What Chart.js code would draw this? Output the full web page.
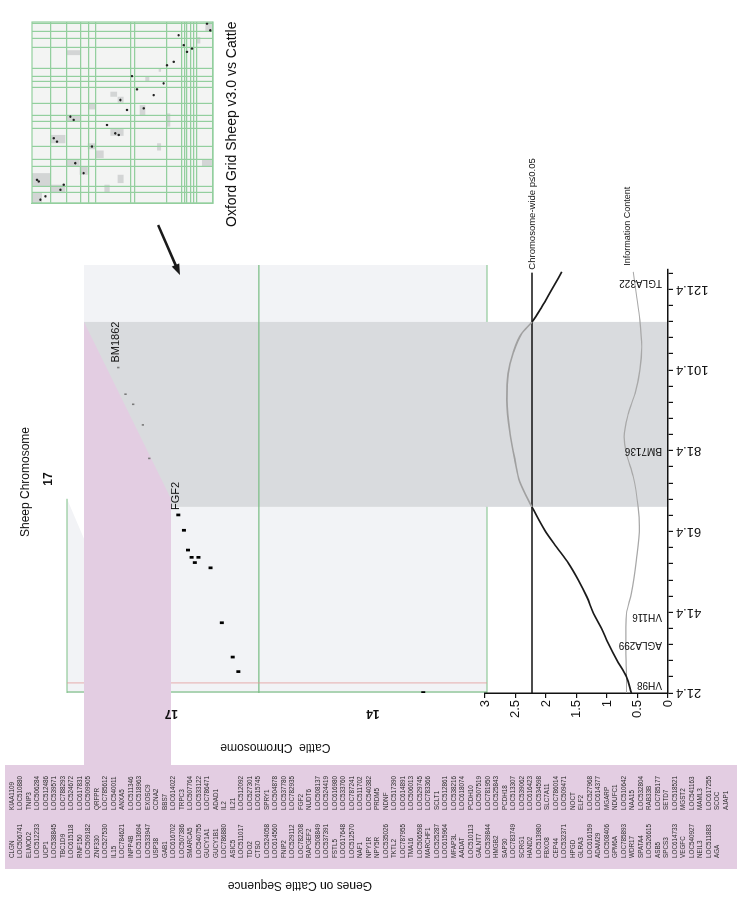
<!DOCTYPE html>
<html>
<head>
<meta charset="utf-8">
<title>Sheep chromosome 17 vs cattle sequence</title>
<script src="https://cdn.jsdelivr.net/npm/chart.js@4.4.1/dist/chart.umd.min.js"></script>
<style>
  html, body { margin: 0; padding: 0; background: #fff; overflow: hidden; }
  /* the figure is laid out landscape and turned a quarter turn */
  #page { position: absolute; left: 0; top: 0; width: 907px; height: 737px;
          transform-origin: 0 0; transform: translateY(907px) rotate(-90deg); }
  #page canvas { position: absolute; left: 0; top: 0; }
</style>
</head>
<body>
<div id="page">
  <canvas id="grid" width="907" height="737"></canvas>
  <canvas id="dots" width="907" height="737"></canvas>
  <canvas id="lod" width="907" height="737"></canvas>
</div>
<script>
// ---- QTL profile on sheep chromosome 17 (cM) ----
const lodPos = [21.4, 25.4, 29.6, 33.7, 37.4, 41.1, 45.2, 49.4, 53.5, 57.6, 61.7, 67.5, 73.7, 79.1, 85.7, 93.9, 100.5, 105.5, 110.4, 113.3, 117.0, 121.2, 125.7];
const lodVal = [0.60, 0.68, 0.84, 0.98, 1.09, 1.22, 1.33, 1.47, 1.63, 1.83, 2.02, 2.23, 2.43, 2.51, 2.59, 2.64, 2.62, 2.54, 2.40, 2.23, 2.07, 1.91, 1.74];
const infoPos = [21.4, 25.4, 31.0, 37.8, 41.1, 46.1, 54.3, 62.6, 67.5, 75.0, 80.7, 84.8, 90.6, 95.6, 101.4, 107.1, 113.7, 120.3, 125.7];
const infoVal = [0.68, 0.68, 0.69, 0.69, 0.68, 0.60, 0.52, 0.47, 0.49, 0.57, 0.68, 0.72, 0.65, 0.54, 0.46, 0.43, 0.46, 0.52, 0.57];
const threshold = 2.23;
const qtlRange = [67.5, 113.3];
const markerNames = ['VH98', 'AGLA299', 'VH116', 'BM7136', 'TGLA322'];
const markerPos = [23.4, 33.3, 40.2, 81.5, 123.1];
const sheepTickLabels = ['21.4', '41.4', '61.4', '81.4', '101.4', '121.4'];
const lodTickLabels = ['0', '0.5', '1', '1.5', '2', '2.5', '3'];

// ---- comparative dot plot: sheep cM vs position on cattle chromosomes ----
const cattleChroms = ['17', '14'];
const cattleFrom = [56.6, 0];
const cattleTo = [100, 56.6];
const dotSheep = [102.0, 95.4, 92.9, 87.8, 79.5, 65.5, 61.7, 56.8, 55.0, 55.0, 53.7, 52.4, 38.8, 30.3, 26.7, 21.5];
const dotCattle = [91.5, 89.7, 87.8, 85.4, 83.8, 76.6, 75.2, 74.2, 73.3, 71.6, 72.5, 68.6, 65.8, 63.1, 61.7, 15.8];
const dotLabel = ['BM1862', '', '', '', '', 'FGF2', '', '', '', '', '', '', '', '', '', ''];
const geneSheep = [69.5, 113.3];
const geneCattle = [78.4, 100];
const redLineAt = 23.9;

const genesA = ('KIAA1109 LOC510880 TNIP3 LOC506284 LOC512486 LOC539571 LOC788293 LOC524672 LOC617831 LOC509905 QRFPR LOC785612 ' +
  'LOC540011 ANXA5 LOC511346 LOC518963 EXOSC9 CCNA2 BBS7 LOC614022 TRPC3 LOC507764 LOC533122 LOC786471 ADAD1 IL2 IL21 ' +
  'LOC512092 LOC527301 LOC615745 SPRY1 LOC504878 LOC537780 LOC782935 FGF2 NUDT6 LOC508137 LOC524419 LOC616980 LOC533760 ' +
  'LOC787241 LOC511702 LOC540382 PRDM5 NDNF LOC517390 LOC614891 LOC506013 LOC529745 LOC783366 SCLT1 LOC512861 LOC538216 ' +
  'LOC618074 PCDH10 LOC507519 LOC781950 LOC525843 PCDH18 LOC513307 LOC539062 LOC616423 LOC534598 SLC7A11 LOC786014 ' +
  'LOC509471 NOCT ELF2 LOC527968 LOC614377 MGARP NDUFC1 LOC510642 NAA15 LOC532804 RAB33B LOC785177 SETD7 LOC518521 MGST2 ' +
  'LOC541163 MAML3 LOC617255 SCOC AJAP1').split(' ');
const genesB = ('CLGN LOC506741 ELMOD2 LOC512233 UCP1 LOC538845 TBC1D9 LOC615118 RNF150 LOC509182 ZNF330 LOC527530 IL15 ' +
  'LOC784621 INPP4B LOC513694 LOC533947 USP38 GAB1 LOC616702 LOC507386 SMARCA5 LOC540755 GUCY1A1 GUCY1B1 LOC786880 ASIC5 ' +
  'LOC511017 TDO2 CTSO LOC524058 LOC614560 FNIP2 LOC529112 LOC782208 RAPGEF2 LOC508849 LOC537391 FSTL5 LOC617648 LOC512570 ' +
  'NAF1 NPY1R NPY5R LOC535026 TKTL2 LOC787955 TMA16 LOC506598 MARCHF1 LOC525287 LOC615964 MFAP3L AADAT LOC510113 GALNT7 ' +
  'LOC539844 HMGB2 SAP30 LOC783749 SCRG1 HAND2 LOC513980 FBXO8 CEP44 LOC532371 HPGD GLRA3 LOC616159 ADAM29 LOC508406 GPM6A ' +
  'LOC785893 WDR17 SPATA4 LOC526615 ASB5 SPCS3 LOC614733 VEGFC LOC540927 NEIL3 LOC511883 AGA').split(' ');

// ---- Oxford grid thumbnail (0-100 both ways) ----
const gridSheepBreaks = [5.9, 9.2, 20.2, 23.9, 31.2, 41.3, 45.0, 48.6, 55.0, 63.9, 67.0, 69.7, 74.3, 86.2, 90.8, 95.0, 99.4];
const gridCattleBreaks = [10.5, 19.0, 27.1, 31.3, 35.4, 54.3, 56.5, 74.2, 82.9, 84.2, 85.6, 87.5, 89.3, 91.2];
const thumbBlocks = [
  [81.7, 84.4, 19.0, 26.7], [58.7, 61.5, 43.3, 47.0], [55.4, 58.7, 47.3, 50.6], [51.7, 54.7, 31.3, 35.0],
  [45.0, 48.6, 19.0, 26.7], [48.6, 54.1, 59.5, 62.6], [37.1, 41.3, 43.3, 50.6], [33.0, 37.6, 10.1, 18.4],
  [29.0, 33.0, 69.1, 71.3], [29.7, 33.0, 30.8, 35.0], [24.8, 29.0, 35.0, 39.6], [20.2, 23.9, 19.0, 26.3],
  [15.6, 20.2, 26.3, 30.8], [9.2, 16.5, 0, 10.1], [5.5, 10.1, 10.1, 18.4], [0, 5.9, 0, 5.5],
  [5.9, 10.1, 40.0, 42.9], [11.0, 15.6, 47.3, 50.6], [20.2, 23.9, 93.9, 99.4], [94.5, 100, 95.8, 99.4],
  [72.5, 74.3, 70.0, 71.3], [67.0, 69.7, 62.6, 64.8], [42.2, 49.5, 74.2, 76.4], [88.1, 91.7, 91.2, 93.0]
];
const thumbDotX = [1.8, 3.7, 12.8, 11.9, 7.3, 10.1, 35.8, 33.9, 47.7, 45.9, 22.0, 16.5, 31.2, 43.1, 38.5, 37.6, 56.9, 51.4, 62.8, 70.1, 52.3, 59.6, 66.1, 76.1, 78.0, 92.7, 87.2, 85.3, 83.5, 99.1, 95.4];
const thumbDotY = [4.6, 7.4, 2.8, 3.7, 15.7, 17.5, 12.0, 13.8, 21.2, 23.0, 23.9, 28.5, 33.1, 41.4, 46.0, 47.9, 48.8, 52.5, 58.0, 55.2, 61.7, 67.2, 72.7, 74.6, 78.3, 81.0, 83.8, 88.4, 85.6, 96.7, 98.5];

const arrowFrom = [137.3, 81.6];
const arrowTo = [124.9, 76.2];

Chart.defaults.font.family = '"Liberation Sans", Arial, sans-serif';
Chart.defaults.color = '#111';

const FONT = '"Liberation Sans", Arial, sans-serif';
const inQtl = v => v > qtlRange[0] && v < qtlRange[1];

function rotText(ctx, text, x, y, align) {
  ctx.save();
  ctx.translate(x, y);
  ctx.rotate(-Math.PI / 2);
  ctx.textAlign = align;
  ctx.textBaseline = 'middle';
  ctx.fillText(text, 0, 0);
  ctx.restore();
}

// ---------- thumbnail grid ----------
const gridDecor = {
  id: 'gridDecor',
  beforeDraw(chart) {
    const { ctx, chartArea: a, scales: { x, y } } = chart;
    ctx.save();
    ctx.fillStyle = '#f3f4f3';
    ctx.fillRect(a.left, a.top, a.right - a.left, a.bottom - a.top);
    ctx.fillStyle = '#d3d5d5';
    thumbBlocks.forEach(b => {
      const x0 = x.getPixelForValue(b[0]), x1 = x.getPixelForValue(b[1]);
      const y0 = y.getPixelForValue(b[2]), y1 = y.getPixelForValue(b[3]);
      ctx.fillRect(x0, y0, x1 - x0, y1 - y0);
    });
    ctx.restore();
  },
  afterDraw(chart) {
    const { ctx, chartArea: a } = chart;
    ctx.save();
    ctx.strokeStyle = '#93cf9e';
    ctx.lineWidth = 1.2;
    ctx.strokeRect(a.left, a.top, a.right - a.left, a.bottom - a.top);
    ctx.fillStyle = '#111';
    ctx.font = '14px ' + FONT;
    ctx.textAlign = 'left';
    ctx.textBaseline = 'middle';
    ctx.fillText('Oxford Grid Sheep v3.0 vs Cattle', 680, a.bottom + 19);
    ctx.restore();
  }
};

new Chart(document.getElementById('grid'), {
  type: 'scatter',
  data: { datasets: [{
    data: thumbDotX.map((x, i) => ({ x, y: thumbDotY[i] })),
    pointRadius: 1.2, backgroundColor: '#222', borderWidth: 0
  }] },
  options: {
    responsive: false, animation: false,
    layout: { padding: { left: 704, right: 22, top: 32, bottom: 524 } },
    plugins: { legend: { display: false }, tooltip: { enabled: false } },
    scales: {
      x: {
        type: 'linear', min: 0, max: 100,
        afterBuildTicks: s => { s.ticks = gridSheepBreaks.map(v => ({ value: v })); },
        afterFit: s => { s.height = 0; },
        ticks: { display: false },
        grid: { color: '#93cf9e', lineWidth: 1.2, drawTicks: false },
        border: { color: '#93cf9e', width: 1.2 }
      },
      y: {
        type: 'linear', min: 0, max: 100, reverse: true,
        afterBuildTicks: s => { s.ticks = gridCattleBreaks.map(v => ({ value: v })); },
        afterFit: s => { s.width = 0; },
        ticks: { display: false },
        grid: { color: '#93cf9e', lineWidth: 1.2, drawTicks: false },
        border: { color: '#93cf9e', width: 1.2 }
      }
    }
  },
  plugins: [gridDecor]
});

// ---------- dot plot panel ----------
const dotDecor = {
  id: 'dotDecor',
  beforeDraw(chart) {
    const { ctx, chartArea: a, scales: { x, y } } = chart;
    const X = v => x.getPixelForValue(v), Y = v => y.getPixelForValue(v);
    const yTop = a.top - 17;
    ctx.save();
    ctx.fillStyle = '#f2f3f6';
    ctx.fillRect(a.left, a.top, a.right - a.left, a.bottom - a.top);
    ctx.beginPath();
    ctx.moveTo(a.left, yTop); ctx.lineTo(X(geneSheep[0]), yTop);
    ctx.lineTo(X(geneSheep[0]) - 40, a.top); ctx.lineTo(a.left, a.top);
    ctx.closePath(); ctx.fill();
    ctx.fillStyle = '#d9dbde';
    ctx.fillRect(X(qtlRange[0]), a.top, X(qtlRange[1]) - X(qtlRange[0]), a.bottom - a.top);

    ctx.strokeStyle = '#7cbf86';
    ctx.lineWidth = 1.2;
    ctx.beginPath();
    ctx.moveTo(a.left, Y(cattleFrom[0])); ctx.lineTo(a.right, Y(cattleFrom[0]));
    ctx.moveTo(a.left, Y(0)); ctx.lineTo(a.right, Y(0));
    ctx.moveTo(a.left + 1, yTop); ctx.lineTo(a.left + 1, a.bottom);
    ctx.moveTo(a.left, yTop); ctx.lineTo(X(geneSheep[0]), yTop);
    ctx.stroke();
    ctx.strokeStyle = '#e59a9a';
    ctx.lineWidth = 0.8;
    ctx.beginPath();
    ctx.moveTo(X(redLineAt), yTop); ctx.lineTo(X(redLineAt), a.bottom);
    ctx.stroke();

    // genes panel and its link to cattle chromosome 17
    const gx0 = 38, gx1 = 142;
    ctx.fillStyle = '#e3cde2';
    ctx.beginPath();
    ctx.moveTo(gx0, 5); ctx.lineTo(gx1, 5); ctx.lineTo(gx1, Y(geneCattle[1]));
    ctx.lineTo(X(geneSheep[1]), Y(geneCattle[1]));
    ctx.lineTo(X(geneSheep[0]), Y(geneCattle[0]));
    ctx.lineTo(gx1, Y(geneCattle[0]));
    ctx.lineTo(gx1, 737); ctx.lineTo(gx0, 737);
    ctx.closePath(); ctx.fill();

    ctx.fillStyle = '#2a2a2a';
    ctx.font = '6.3px ' + FONT;
    ctx.textAlign = 'left';
    ctx.textBaseline = 'middle';
    genesA.forEach((g, i) => ctx.fillText(g, 97, 12 + i * 8.5));
    genesB.forEach((g, i) => ctx.fillText(g, 49, 12 + i * 8.5));
    ctx.restore();
  },
  afterDraw(chart) {
    const { ctx, scales: { x, y } } = chart;
    const X = v => x.getPixelForValue(v), Y = v => y.getPixelForValue(v);
    ctx.save();
    ctx.fillStyle = '#111';
    ctx.textBaseline = 'middle';
    ctx.textAlign = 'left';
    ctx.font = '11px ' + FONT;
    dotLabel.forEach((t, i) => {
      if (t) ctx.fillText(t, X(dotSheep[i]) + 5, Y(dotCattle[i]) - 2);
    });
    ctx.font = 'bold 12px ' + FONT;
    cattleChroms.forEach((c, i) => rotText(ctx, c, 194, Y((cattleFrom[i] + cattleTo[i]) / 2), 'center'));
    ctx.font = '12px ' + FONT;
    rotText(ctx, 'Cattle  Chromosome', 160, Y(52.5), 'center');
    rotText(ctx, 'Genes on Cattle Sequence', 22, 300, 'center');
    ctx.textAlign = 'center';
    ctx.fillText('Sheep Chromosome', 425, 26);
    ctx.font = 'bold 12px ' + FONT;
    ctx.fillText('17', 428, 49);

    // arrow from the thumbnail grid
    const sx = X(arrowFrom[0]), sy = Y(arrowFrom[1]);
    const tx = X(arrowTo[0]), ty = Y(arrowTo[1]);
    const ang = Math.atan2(ty - sy, tx - sx);
    ctx.strokeStyle = '#1a1a1a';
    ctx.fillStyle = '#1a1a1a';
    ctx.lineWidth = 2.6;
    ctx.beginPath();
    ctx.moveTo(sx, sy);
    ctx.lineTo(tx - 8 * Math.cos(ang), ty - 8 * Math.sin(ang));
    ctx.stroke();
    ctx.beginPath();
    ctx.moveTo(tx, ty);
    ctx.lineTo(tx - 11 * Math.cos(ang) + 4 * Math.sin(ang), ty - 11 * Math.sin(ang) - 4 * Math.cos(ang));
    ctx.lineTo(tx - 11 * Math.cos(ang) - 4 * Math.sin(ang), ty - 11 * Math.sin(ang) + 4 * Math.cos(ang));
    ctx.closePath();
    ctx.fill();
    ctx.restore();
  }
};

new Chart(document.getElementById('dots'), {
  type: 'scatter',
  data: { datasets: [{
    data: dotSheep.map((x, i) => ({ x, y: dotCattle[i] })),
    pointStyle: 'line',
    rotation: 90,
    pointRadius: c => (c.raw && inQtl(c.raw.x)) ? 1.2 : 2,
    borderWidth: c => (c.raw && inQtl(c.raw.x)) ? 1.6 : 2.7,
    borderColor: c => (c.raw && inQtl(c.raw.x)) ? '#7a7a7a' : '#000'
  }] },
  options: {
    responsive: false, animation: false,
    layout: { padding: { left: 214, right: 265, top: 84, bottom: 250 } },
    plugins: { legend: { display: false }, tooltip: { enabled: false } },
    scales: {
      x: { type: 'linear', min: 21.4, max: 127.4, display: false },
      y: { type: 'linear', min: 0, max: 100, display: false }
    }
  },
  plugins: [dotDecor]
});

// ---------- F-statistic profile ----------
const lodDecor = {
  id: 'lodDecor',
  beforeDraw(chart) {
    const { ctx, chartArea: a, scales: { x } } = chart;
    const x0 = x.getPixelForValue(qtlRange[0]), x1 = x.getPixelForValue(qtlRange[1]);
    ctx.save();
    ctx.fillStyle = '#d9dbde';
    ctx.fillRect(x0, a.top, x1 - x0, a.bottom - a.top);
    ctx.restore();
  },
  afterDatasetsDraw(chart) {
    const { ctx, chartArea: a, scales: { x, y } } = chart;
    ctx.save();
    ctx.fillStyle = '#111';
    ctx.font = '10px ' + FONT;
    markerNames.forEach((n, i) => rotText(ctx, n, x.getPixelForValue(markerPos[i]), a.bottom - 6, 'left'));
    ctx.textAlign = 'left';
    ctx.textBaseline = 'middle';
    ctx.font = '9.5px ' + FONT;
    ctx.fillText('Chromosome-wide p\u22640.05', x.getPixelForValue(125.5) + 3, y.getPixelForValue(threshold));
    ctx.font = '9px ' + FONT;
    ctx.fillText('Information Content', x.getPixelForValue(infoPos[infoPos.length - 1]) + 6,
      y.getPixelForValue(infoVal[infoVal.length - 1]) - 6);
    ctx.restore();
  }
};

new Chart(document.getElementById('lod'), {
  type: 'line',
  data: { datasets: [
    {
      data: lodPos.map((x, i) => ({ x, y: lodVal[i] })),
      borderColor: '#1a1a1a', borderWidth: 1.7, pointRadius: 0, cubicInterpolationMode: 'monotone',
      segment: { borderColor: c => inQtl((c.p0.parsed.x + c.p1.parsed.x) / 2) ? '#a0a0a0' : '#1a1a1a' }
    },
    {
      data: infoPos.map((x, i) => ({ x, y: infoVal[i] })),
      borderColor: '#a8a8a8', borderWidth: 1.2, pointRadius: 0, cubicInterpolationMode: 'monotone'
    },
    {
      data: [{ x: 21.4, y: threshold }, { x: 125.5, y: threshold }],
      borderColor: '#111', borderWidth: 1.6, pointRadius: 0
    }
  ] },
  options: {
    responsive: false, animation: false,
    layout: { padding: { left: 184, right: 269, top: 485, bottom: 9 } },
    plugins: { legend: { display: false }, tooltip: { enabled: false } },
    scales: {
      x: {
        type: 'linear', min: 21.4, max: 126.4,
        afterBuildTicks: s => { s.ticks = []; for (let v = 21.4; v < 126; v += 4) s.ticks.push({ value: v }); },
        afterFit: s => { s.height = 60; },
        border: { color: '#111', width: 1.5 },
        grid: { drawOnChartArea: false, tickLength: 5, color: '#111', lineWidth: 1.2 },
        ticks: {
          autoSkip: false, minRotation: 90, maxRotation: 90, padding: 3, font: { size: 13 },
          callback: v => { const t = v.toFixed(1); return sheepTickLabels.includes(t) ? t : ''; }
        }
      },
      y: {
        type: 'linear', min: 0, max: 3,
        afterFit: s => { s.width = 30; },
        border: { color: '#111', width: 1.5 },
        grid: { drawOnChartArea: false, tickLength: 5, color: '#111', lineWidth: 1.2 },
        ticks: { stepSize: 0.5, padding: 2, font: { size: 13 },
          callback: v => lodTickLabels[Math.round(v * 2)] }
      }
    }
  },
  plugins: [lodDecor]
});
</script>
</body>
</html>
